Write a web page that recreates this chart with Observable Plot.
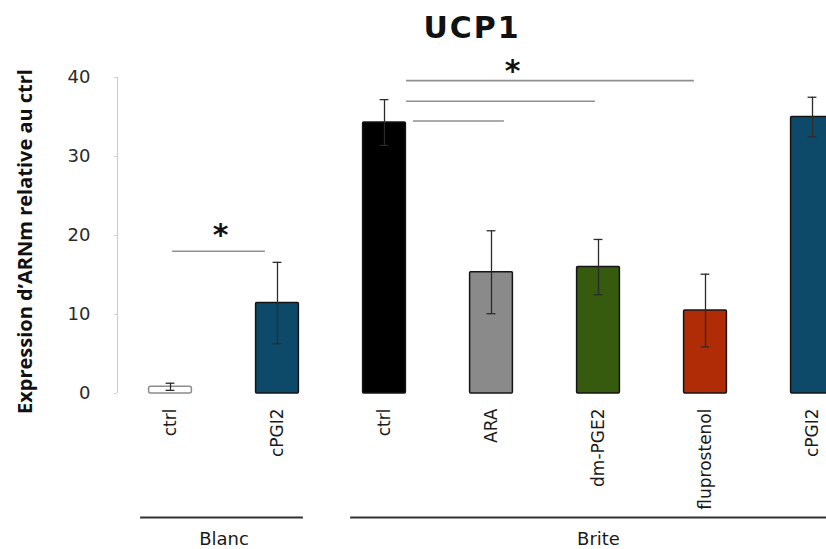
<!DOCTYPE html>
<html><head><meta charset="utf-8">
<script src="https://cdn.jsdelivr.net/npm/d3@7"></script>
<script src="https://cdn.jsdelivr.net/npm/@observablehq/plot@0.6"></script>
<style>
html,body{margin:0;padding:0;background:#fff;overflow:hidden;}
#title{box-sizing:border-box;width:826px;height:40px;padding-top:13px;padding-left:118px;text-align:center;
  font-family:"DejaVu Sans";font-weight:bold;font-size:30px;line-height:30px;letter-spacing:2px;color:#111;white-space:nowrap;}
#chart svg{overflow:hidden;display:block;}
</style></head>
<body>
<div id="title"></div>
<div id="chart"></div>
<script>
// ---- data ----
const title = "UCP1";
const yLabel = "Expression d’ARNm relative au ctrl";
const groups = ["Blanc","Blanc","Brite","Brite","Brite","Brite","Brite"];
const treatments = ["ctrl","cPGI2","ctrl","ARA","dm-PGE2","fluprostenol","cPGI2"];
const means = [0.85, 11.45, 34.3, 15.35, 16.0, 10.5, 35.0];
const errors = [0.45, 5.15, 2.9, 5.25, 3.5, 4.6, 2.5];
const barColors = ["#ffffff","#0d4a6a","#000000","#8a8a8a","#365a0e","#b02c06","#0d4a6a"];
const yTicks = [0, 10, 20, 30, 40];
const groupNames = ["Blanc","Brite"];
// significance comparisons (bar indexes) and their levels
const sigFrom = [0, 2, 2, 2];
const sigTo = [1, 3, 4, 5];
const sigLevel = [18, 34.5, 37, 39.6];
const starBar = [0, 3];
const starLevel = [21, 41.8];

document.getElementById("title").textContent = title;

const keys = groups.map((g, i) => g + "|" + treatments[i]);
const rows = keys.map((k, i) => ({key: k, group: groups[i], treatment: treatments[i], mean: means[i], err: errors[i]}));
const sig = sigFrom.map((f, i) => ({from: keys[f], to: keys[sigTo[i]], level: sigLevel[i]}));
const stars = starBar.map((b, i) => ({key: keys[b], level: starLevel[i]}));
const grp = groupNames.map(g => {
  const ks = keys.filter((k, i) => groups[i] === g);
  return {name: g, first: ks[0], last: ks[ks.length - 1], n: ks.length};
});

const W = 826, H = 509, mL = 117, mT = 37, mB = 156;
const xOpts = {type: "band", domain: keys, range: [116.5, 865.5], paddingInner: 0.6, paddingOuter: 0.3, align: 0.5, round: false};
const xs = Plot.scale({x: xOpts});
const step = xs.step, bw = xs.bandwidth;
const axisDx = mL - (xs.apply(keys[0]) + bw / 2);

const font = "DejaVu Sans";
const sigStyle = {stroke: "#8f8f8f", strokeWidth: 1.6};
const errStyle = {stroke: "#2b2b2b", strokeWidth: 1.3};

const chart = Plot.plot({
  width: W, height: H,
  marginLeft: mL, marginRight: 0, marginTop: mT, marginBottom: mB,
  style: {fontFamily: font, fontSize: "17px", color: "#222", background: "#fff", overflow: "hidden"},
  x: {...xOpts, axis: null},
  y: {domain: [0, 40], axis: null},
  color: {type: "ordinal", domain: keys, range: barColors},
  marks: [
    // y axis line
    Plot.ruleX([keys[0]], {x: d => d, y1: () => 0, y2: () => 40, dx: axisDx, stroke: "#cfcfcf", strokeWidth: 1.2}),
    Plot.axisY({ticks: yTicks, tickSize: 3, tickPadding: 24, stroke: "#cfcfcf", fill: "#2a2a2a", fontSize: 18, fontFamily: font, label: null}),
    Plot.axisX({tickSize: 0, tickPadding: 15, tickRotate: -90, tickFormat: k => k.split("|")[1], fill: "#1a1a1a", fontSize: 17, fontFamily: font, label: null}),
    // bars
    Plot.barY(rows, {filter: (d, i) => i === 0, x: "key", y: "mean", fill: "key", stroke: "#8c8c8c", strokeWidth: 1.5, rx: 2}),
    Plot.barY(rows, {filter: (d, i) => i > 0, x: "key", y: "mean", fill: "key", stroke: "#141414", strokeWidth: 1.5, rx: 1}),
    // error bars
    Plot.ruleX(rows, {x: "key", y1: d => d.mean - d.err, y2: d => d.mean + d.err, ...errStyle}),
    Plot.tickY(rows, {x: "key", y: d => d.mean + d.err, insetLeft: 17, insetRight: 17, ...errStyle}),
    Plot.tickY(rows, {x: "key", y: d => d.mean - d.err, insetLeft: 17, insetRight: 17, ...errStyle}),
    // significance lines (ruleY spans from band start of x1 to band end of x2)
    Plot.ruleY([sig[0]], {x1: "from", x2: "to", y: "level", insetLeft: 23.5, insetRight: 33.5, ...sigStyle}),
    Plot.ruleY([sig[1]], {x1: "from", x2: "to", y: "level", insetLeft: 50.5, insetRight: 8.5, ...sigStyle}),
    Plot.ruleY([sig[2]], {x1: "from", x2: "to", y: "level", insetLeft: 43.5, insetRight: 24.5, ...sigStyle}),
    Plot.ruleY([sig[3]], {x1: "from", x2: "to", y: "level", insetLeft: 43.5, insetRight: 32.5, ...sigStyle}),
    Plot.text([stars[0]], {x: "key", y: "level", text: () => "*", dx: 50, dy: 8, fontSize: 30, fontWeight: "bold", fontFamily: font, fill: "#111"}),
    Plot.text([stars[1]], {x: "key", y: "level", text: () => "*", dx: 21, dy: 8, fontSize: 30, fontWeight: "bold", fontFamily: font, fill: "#111"}),
    // group brackets
    Plot.ruleY([grp[0]], {x1: "first", x2: "last", y: () => 0, dy: 124, insetLeft: -8.5, insetRight: -4.5, stroke: "#333", strokeWidth: 2}),
    Plot.ruleY([grp[1]], {x1: "first", x2: "last", y: () => 0, dy: 124, insetLeft: -12.5, insetRight: -60, stroke: "#333", strokeWidth: 2}),
    Plot.text([grp[0]], {x: "first", y: () => 0, text: "name", lineAnchor: "bottom", dx: (grp[0].n - 1) / 2 * step, dy: 151, fontSize: 18, fontFamily: font, fill: "#1a1a1a"}),
    Plot.text([grp[1]], {x: "first", y: () => 0, text: "name", lineAnchor: "bottom", dx: (grp[1].n - 1) / 2 * step, dy: 151, fontSize: 18, fontFamily: font, fill: "#1a1a1a"}),
    // y axis title
    Plot.text([yLabel], {frameAnchor: "left", text: d => d, rotate: -90, textAnchor: "middle", dx: -92, dy: 6, fontSize: 20, fontWeight: "bold", fontFamily: "Open Sans", fill: "#111"})
  ]
});
document.getElementById("chart").appendChild(chart);
</script>
</body></html>
